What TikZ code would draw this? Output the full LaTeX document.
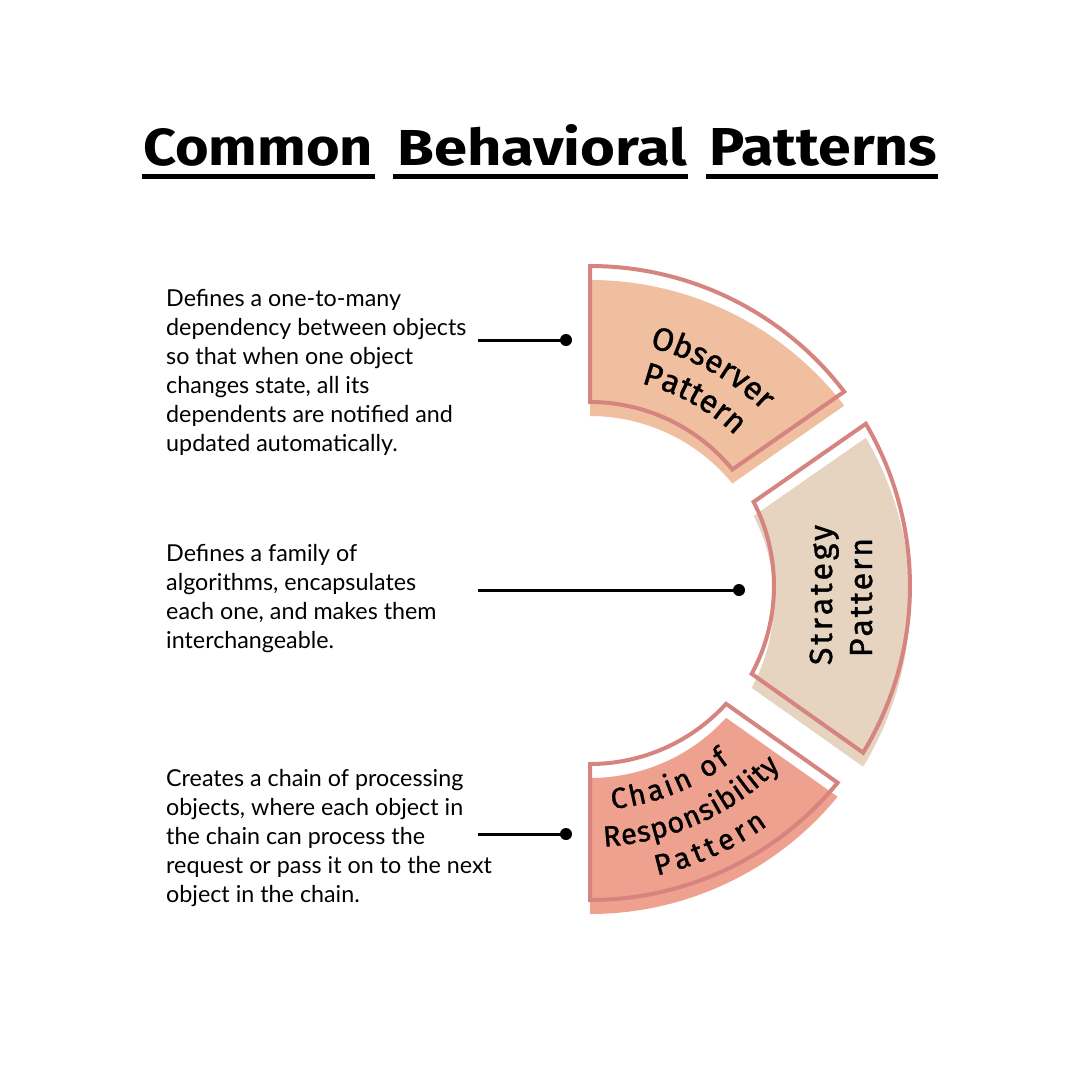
\documentclass[tikz,border=0pt]{standalone}
\usepackage{fontspec}
\setmainfont{Lato}
\newfontfamily\titlefont{Fira Sans}
\newfontfamily\lblfont{Fira Sans}[FakeBold=1.2]
\usetikzlibrary{calc,decorations.text}

\definecolor{outl}{HTML}{D5847F}
\definecolor{obsfill}{HTML}{F0BFA0}
\definecolor{strfill}{HTML}{E6D3C0}
\definecolor{chnfill}{HTML}{EFA18F}

% annular sector: center, R, r, outer start, outer end, inner start, inner end (tikz angles)
\newcommand\annsec[7]{($(#1)+(#4:#2)$) arc[start angle=#4, end angle=#5, radius=#2] -- ($(#1)+(#6:#3)$) arc[start angle=#6, end angle=#7, radius=#3] -- cycle}
\newcommand\lblfmt{|\lblfont\fontsize{32pt}{32pt}\selectfont|}
\newcommand\lblfmtc{|\lblfont\fontsize{29pt}{29pt}\selectfont|}

\tikzset{
  seg/.style={draw=outl, line width=4pt, line join=miter},
  desc/.style={anchor=north west, align=left, inner sep=0pt, font=\fontsize{23.3pt}{29pt}\selectfont},
  titleword/.style={anchor=base west, inner sep=0pt, font=\titlefont\bfseries},
  pindot/.style={circle, fill=black, inner sep=0pt, minimum size=12pt},
  conn/.style={draw=black, line width=3pt},
  lbl/.style={decorate, decoration={text along path, text align=fit to path, text color=black, text={#1}}}
}

\begin{document}
\begin{tikzpicture}[x=1pt,y=-1pt]
\fill[white] (0,0) rectangle (1080,1080);
\useasboundingbox (0,0) rectangle (1080,1080);

% title
\node[titleword] (tw1) at (143,165) {\resizebox{230pt}{37pt}{Common}};
\node[titleword] (tw2) at (397,165) {\resizebox{290pt}{41pt}{Behavioral}};
\node[titleword] (tw3) at (709,165) {\resizebox{228pt}{37pt}{Patterns}};
\fill (142,174) rectangle (375,178.5);
\fill (393,174) rectangle (688,178.5);
\fill (706,174) rectangle (938,178.5);

% shadow fills
\fill[obsfill] \annsec{590,600}{320}{184}{-90}{-37.4}{-39.3}{-90};
\fill[strfill] \annsec{590,600}{320}{184}{-30.46}{31.4}{28.5}{-27.2};
\fill[chnfill] \annsec{590,594}{320}{184}{39.3}{90}{90}{42.3};

% outlines
\path[seg] \annsec{590,586}{320}{184}{-90}{-37.4}{-39.3}{-90};
\path[seg] \annsec{590,586}{320}{184}{-30.46}{31.4}{28.5}{-27.2};
\path[seg] \annsec{590,580}{320}{184}{39.3}{90}{90}{42.3};

% segment labels
\path[lbl={\lblfmt Observer}] ($(590,586)+(-76:246)$) arc[start angle=-76, end angle=-45.5, radius=246];
\path[lbl={\lblfmt Pattern}] ($(590,586)+(-75.8:209)$) arc[start angle=-75.8, end angle=-46, radius=209];
\path[lbl={\lblfmt Strategy}] (832,665) -- (832,525);
\path[lbl={\lblfmt Pattern}] (872,657) -- (872,538);
\path[lbl={\lblfmtc Chain of}] ($(590,580)+(84.5:230)$) arc[start angle=84.5, end angle=52.5, radius=230];
\path[lbl={\lblfmtc Responsibility}] ($(590,580)+(87:267)$) arc[start angle=87, end angle=44.5, radius=267];
\path[lbl={\lblfmtc Pattern}] ($(590,580)+(77.2:303)$) arc[start angle=77.2, end angle=54.1, radius=303];

% descriptions
\node[desc] (t1) at (166,288) {\rule{0pt}{18pt}Defines a one-to-many\\dependency between objects\\so that when one object\\changes state, all its\\dependents are notified and\\updated automatically.};
\node[desc] (t2) at (166,543) {\rule{0pt}{18pt}Defines a family of\\algorithms, encapsulates\\each one, and makes them\\interchangeable.};
\node[desc] (t3) at (166,768) {\rule{0pt}{18pt}Creates a chain of processing\\objects, where each object in\\the chain can process the\\request or pass it on to the next\\object in the chain.};

% connectors
\coordinate (s1) at (478,340);
\node[pindot] (d1) at (566,340) {};
\coordinate (s2) at (478,590);
\node[pindot] (d2) at (739,590) {};
\coordinate (s3) at (478,834);
\node[pindot] (d3) at (566,834) {};
\draw[conn] (s1) -- (d1.center);
\draw[conn] (s2) -- (d2.center);
\draw[conn] (s3) -- (d3.center);
\end{tikzpicture}
\end{document}
